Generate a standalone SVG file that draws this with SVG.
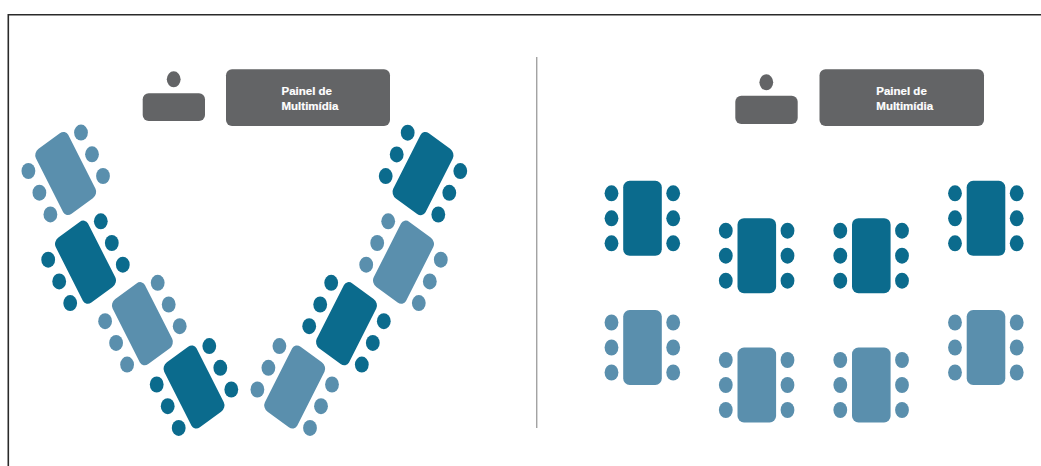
<svg xmlns="http://www.w3.org/2000/svg" width="1041" height="466" viewBox="0 0 1041 466">
<style>
.dark{fill:#0b6b8d}
.light{fill:#5a8fad}
.gray{fill:#636466}
.label{font-family:"Liberation Sans",Arial,sans-serif;font-weight:700;font-size:11.5px;fill:#fff;stroke:#fff;stroke-width:.2}
.rule{stroke:#7d7d7d;stroke-width:1;fill:none}
.frame{stroke:#2a2a2a;stroke-width:1.6;fill:none}
</style>
<defs>
<ellipse id="seat" rx="6.9" ry="8"/>
<g id="straight">
<rect x="-19.3" y="-37.5" width="38.6" height="75" rx="6.5"/>
<use href="#seat" x="-31" y="-25"/><use href="#seat" x="-31" y="0"/><use href="#seat" x="-31" y="25"/>
<use href="#seat" x="30.7" y="-25"/><use href="#seat" x="30.7" y="0"/><use href="#seat" x="30.7" y="25"/>
</g>
<g id="tilt-left">
<rect x="-19" y="-37.5" width="38" height="75" rx="6.5" transform="matrix(.85 -.62 .44 .868 0 0)"/>
<use href="#seat" x="15.3" y="-40.9"/><use href="#seat" x="26.3" y="-19.2"/><use href="#seat" x="37.3" y="2.5"/>
<use href="#seat" x="-37.3" y="-2.5"/><use href="#seat" x="-26.3" y="19.2"/><use href="#seat" x="-15.3" y="40.9"/>
</g>
<g id="tilt-right">
<rect x="-19" y="-37.5" width="38" height="75" rx="6.5" transform="matrix(.85 .62 -.44 .868 0 0)"/>
<use href="#seat" x="-15.3" y="-40.9"/><use href="#seat" x="-26.3" y="-19.2"/><use href="#seat" x="-37.3" y="2.5"/>
<use href="#seat" x="37.3" y="-2.5"/><use href="#seat" x="26.3" y="19.2"/><use href="#seat" x="15.3" y="40.9"/>
</g>
</defs>
<rect width="1041" height="466" fill="#fff"/>
<path class="frame" d="M1041 14.8H8.3V466"/>
<path class="rule" d="M536.8 57V428"/>

<g id="podium-left" class="gray">
<ellipse cx="173.7" cy="79.3" rx="6.9" ry="8"/>
<rect x="142.7" y="93.3" width="62.3" height="27.8" rx="6"/>
</g>
<g id="panel-left">
<rect class="gray" x="226" y="69.3" width="164" height="56.8" rx="6"/>
<text class="label" x="281.5" y="95">Painel de</text>
<text class="label" x="281.5" y="109.5">Multimídia</text>
</g>
<g id="podium-right" class="gray">
<ellipse cx="766.3" cy="82.3" rx="6.9" ry="8"/>
<rect x="735.3" y="95.7" width="62.4" height="28.3" rx="6"/>
</g>
<g id="panel-right">
<rect class="gray" x="819.5" y="69.3" width="164.5" height="56.8" rx="6"/>
<text class="label" x="876.3" y="95">Painel de</text>
<text class="label" x="876.3" y="109.5">Multimídia</text>
</g>

<g id="v-left-1" class="light" transform="translate(65.7 173.5)"><use href="#tilt-left"/></g>
<g id="v-left-2" class="dark" transform="translate(85.5 262.2)"><use href="#tilt-left"/></g>
<g id="v-left-3" class="light" transform="translate(142.4 323.7)"><use href="#tilt-left"/></g>
<g id="v-left-4" class="dark" transform="translate(194 387)"><use href="#tilt-left"/></g>
<g id="v-right-1" class="dark" transform="translate(423 173.6)"><use href="#tilt-right"/></g>
<g id="v-right-2" class="light" transform="translate(403.5 262.2)"><use href="#tilt-right"/></g>
<g id="v-right-3" class="dark" transform="translate(346.5 323.7)"><use href="#tilt-right"/></g>
<g id="v-right-4" class="light" transform="translate(294.7 387)"><use href="#tilt-right"/></g>

<g id="row-top-1" class="dark" transform="translate(642.5 218.3)"><use href="#straight"/></g>
<g id="row-top-2" class="dark" transform="translate(756.8 255.7)"><use href="#straight"/></g>
<g id="row-top-3" class="dark" transform="translate(871.3 255.7)"><use href="#straight"/></g>
<g id="row-top-4" class="dark" transform="translate(986 218.3)"><use href="#straight"/></g>
<g id="row-bottom-1" class="light" transform="translate(642.5 347.5)"><use href="#straight"/></g>
<g id="row-bottom-2" class="light" transform="translate(756.8 385)"><use href="#straight"/></g>
<g id="row-bottom-3" class="light" transform="translate(871.3 385)"><use href="#straight"/></g>
<g id="row-bottom-4" class="light" transform="translate(986 347.5)"><use href="#straight"/></g>
</svg>
